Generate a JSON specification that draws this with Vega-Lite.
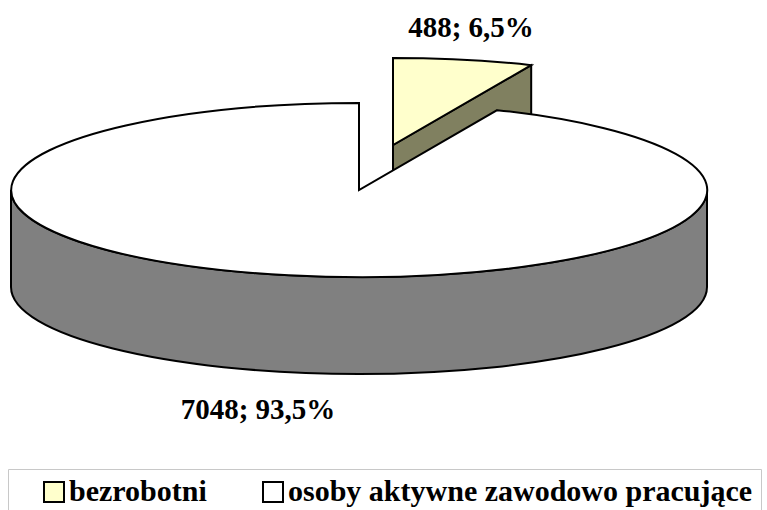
{
  "$schema": "https://vega.github.io/schema/vega-lite/v6.json",
  "width": 718,
  "height": 380,
  "padding": 0,
  "background": "white",
  "config": {
    "view": {"stroke": null},
    "legend": {"labelFont": "Liberation Serif", "labelFontSize": 30, "labelFontWeight": "bold", "labelColor": "black", "symbolSize": 400, "symbolType": "square"}
  },
  "data": {
    "values": [
      {"kategoria": "bezrobotni", "liczba": 488, "udzial": "6,5%", "etykieta": "488; 6,5%"},
      {"kategoria": "osoby aktywne zawodowo pracujące", "liczba": 7048, "udzial": "93,5%", "etykieta": "7048; 93,5%"}
    ]
  },
  "layer": [
    {
      "transform": [{"filter": "datum.kategoria === 'bezrobotni'"}],
      "mark": {"type": "point", "shape": "M0.0977,-0.1293 L0.4948,-0.3588 L0.4948,-0.0801 L0.0977,0.1494 Z", "size": 484416, "filled": true, "fill": "#808060", "stroke": "black", "strokeWidth": 2, "opacity": 1},
      "encoding": {}
    },
    {
      "transform": [{"filter": "datum.kategoria === 'bezrobotni'"}],
      "mark": {"type": "point", "shape": "M0.0977,-0.1293 L0.0977,-0.3793 A1,0.25 0 0 1 0.4948,-0.3588 Z", "size": 484416, "filled": true, "fill": "#FFFFCC", "stroke": "black", "strokeWidth": 2, "opacity": 1},
      "encoding": {}
    },
    {
      "transform": [{"filter": "datum.kategoria !== 'bezrobotni'"}],
      "mark": {"type": "point", "shape": "M1,0 A1,0.25 0 0 1 -1,0 L-1,0.2787 A1,0.25 0 0 0 1,0.2787 Z", "size": 484416, "filled": true, "fill": "#808080", "stroke": "black", "strokeWidth": 2, "opacity": 1},
      "encoding": {}
    },
    {
      "transform": [{"filter": "datum.kategoria !== 'bezrobotni'"}],
      "mark": {"type": "point", "shape": "M0,0 L0,-0.25 A1,0.25 0 1 0 0.3971,-0.2295 Z", "size": 484416, "filled": true, "stroke": "black", "strokeWidth": 2, "opacity": 1},
      "encoding": {
        "color": {
          "field": "kategoria",
          "type": "nominal",
          "scale": {"domain": ["bezrobotni", "osoby aktywne zawodowo pracujące"], "range": ["#FFFFCC", "#FFFFFF"]},
          "legend": {
            "orient": "none", "legendX": 8, "legendY": 469, "direction": "horizontal",
            "title": " ", "titleOrient": "left", "titleFontSize": 1, "titlePadding": 23,
            "symbolType": "square", "symbolSize": 400, "symbolStrokeColor": "black", "symbolStrokeWidth": 2,
            "labelFont": "Liberation Serif", "labelFontSize": 30, "labelFontWeight": "bold", "labelColor": "black",
            "labelOffset": 0, "columnPadding": 51, "padding": 8, "strokeColor": "#c8c8c8", "labelLimit": 700,
            "encode": {
              "legend": {"strokeWidth": {"value": 2}},
              "symbols": {"shape": {"value": "square"}, "size": {"value": 400}, "stroke": {"value": "black"}, "strokeWidth": {"value": 2}, "opacity": {"value": 1}},
              "labels": {"font": {"value": "Liberation Serif"}, "fontSize": {"value": 30}, "fontWeight": {"value": "bold"}, "fill": {"value": "black"}}
            }
          }
        }
      }
    },
    {
      "transform": [{"filter": "datum.kategoria === 'bezrobotni'"}],
      "mark": {"type": "text", "dx": 112, "dy": -153, "align": "center", "baseline": "alphabetic", "font": "Liberation Serif", "fontSize": 29, "fontWeight": "bold", "color": "black"},
      "encoding": {"text": {"field": "etykieta", "type": "nominal"}}
    },
    {
      "transform": [{"filter": "datum.kategoria !== 'bezrobotni'"}],
      "mark": {"type": "text", "dx": -101, "dy": 229, "align": "center", "baseline": "alphabetic", "font": "Liberation Serif", "fontSize": 29, "fontWeight": "bold", "color": "black"},
      "encoding": {"text": {"field": "etykieta", "type": "nominal"}}
    }
  ]
}
